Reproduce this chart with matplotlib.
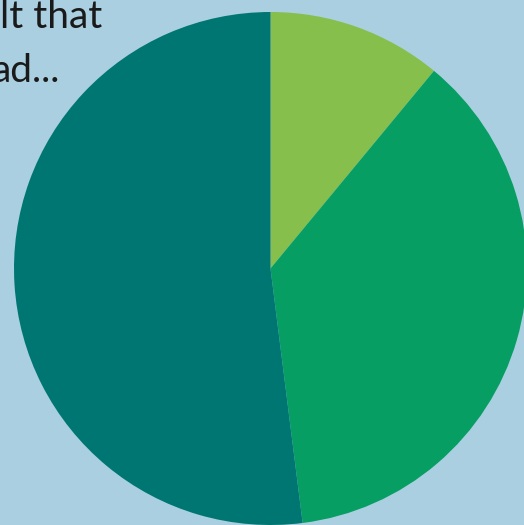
import matplotlib.pyplot as plt

# slice shares, clockwise from 12 o'clock
labels = ["light green", "green", "teal"]
shares = [11.0, 37.0, 52.0]
colors = ["#86bf4c", "#069e62", "#007672"]
bg = "#aacfe1"

# partially visible caption lines (cut off at the left edge)
caption = ["lt that", "ad..."]

W, H = 524, 525
fig = plt.figure(figsize=(W / 100, H / 100), dpi=100, facecolor=bg)
ax = fig.add_axes([0, 0, 1, 1])
ax.set_facecolor(bg)

ax.pie(
    shares,
    colors=colors,
    startangle=90,
    counterclock=False,
    center=(270.5, H - 268.5),
    radius=256.5,
    wedgeprops=dict(linewidth=0),
    frame=True,
)
ax.set_xlim(0, W)
ax.set_ylim(0, H)
ax.set_aspect("equal")
ax.axis("off")

txt = dict(fontsize=28, family="Lato", weight="normal", color="#1a1a1a",
           ha="left", va="baseline")
ax.text(0, H - 28, caption[0], **txt)
ax.text(-8, H - 82, caption[1], **txt)

fig.savefig("out.png", dpi=100, facecolor=bg)
